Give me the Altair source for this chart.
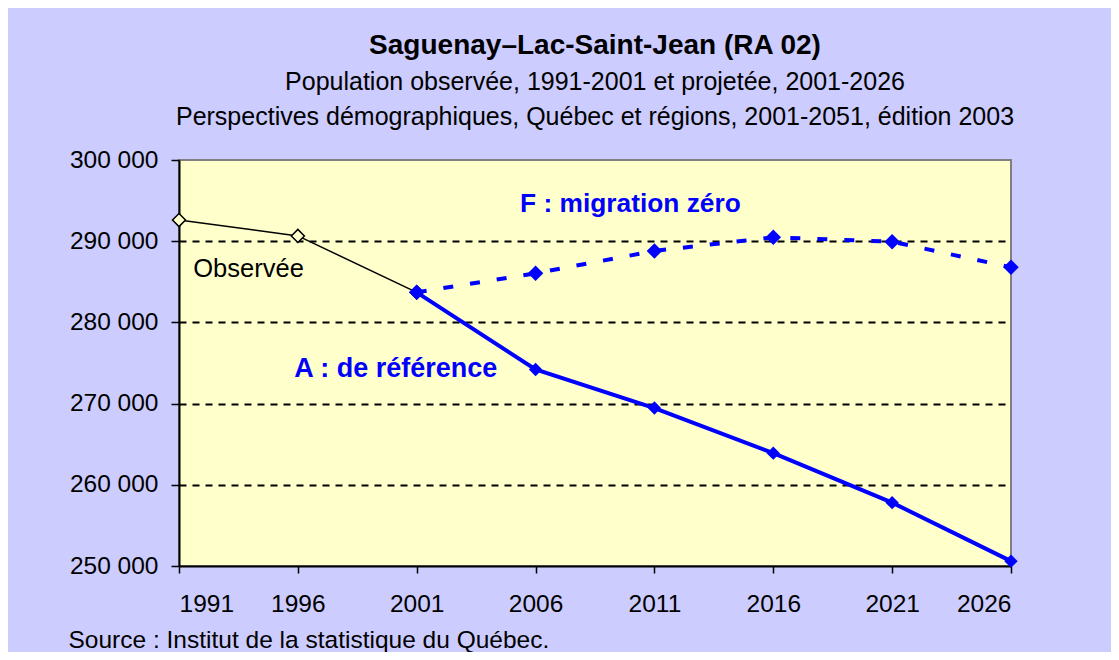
import altair as alt
import pandas as pd

# ---- data ----
obs_years = [1991, 1996, 2001]
obs_values = [292600, 290650, 283700]

proj_years = [2001, 2006, 2011, 2016, 2021, 2026]
a_values = [283700, 274200, 269450, 263900, 257800, 250600]
f_values = [283700, 286050, 288800, 290480, 289940, 286790]

x_ticks = [1991, 1996, 2001, 2006, 2011, 2016, 2021, 2026]
y_ticks = [250000, 260000, 270000, 280000, 290000, 300000]

obs_label = ["Observée"]
obs_label_year = [1991.6]
obs_label_value = [286600]

f_label = ["F : migration zéro"]
f_label_year = [2005.35]
f_label_value = [294600]

a_label = ["A : de référence"]
a_label_year = [1995.85]
a_label_value = [274250]

title_text = "Saguenay–Lac-Saint-Jean (RA 02)"
subtitle_lines = [
    "Population observée, 1991-2001 et projetée, 2001-2026",
    "Perspectives démographiques, Québec et régions, 2001-2051, édition 2003",
]
source_text = "Source : Institut de la statistique du Québec."

FONT = "Liberation Sans"
BLUE = "#0000FF"

obs_df = pd.DataFrame({"year": obs_years, "pop": obs_values})
a_df = pd.DataFrame({"year": proj_years, "pop": a_values})
f_df = pd.DataFrame({"year": proj_years, "pop": f_values})
obs_lab_df = pd.DataFrame({"year": obs_label_year, "pop": obs_label_value, "t": obs_label})
f_lab_df = pd.DataFrame({"year": f_label_year, "pop": f_label_value, "t": f_label})
a_lab_df = pd.DataFrame({"year": a_label_year, "pop": a_label_value, "t": a_label})

x_scale = alt.Scale(domain=[1991, 2026], nice=False, zero=False)
y_scale = alt.Scale(domain=[250000, 300000], nice=False, zero=False)

x_enc = alt.X(
    "year:Q",
    scale=x_scale,
    axis=alt.Axis(
        values=x_ticks,
        format="d",
        grid=False,
        domainColor="#000000",
        domainWidth=2,
        tickColor="#000000",
        tickSize=7,
        tickWidth=1.5,
        labelFont=FONT,
        labelFontSize=24.5,
        labelColor="#000000",
        labelPadding=19,
        title=source_text,
        titleFont=FONT,
        titleFontSize=24.5,
        titleFontWeight="normal",
        titleColor="#000000",
        titleX=-111,
        titleY=74,
        titleAlign="left",
        titleBaseline="middle",
    ),
)
y_enc = alt.Y(
    "pop:Q",
    scale=y_scale,
    axis=alt.Axis(
        values=y_ticks,
        labelExpr="replace(format(datum.value, ','), ',', ' ')",
        grid=True,
        gridColor="#000000",
        gridDash=[7, 6],
        gridWidth=2,
        gridOpacity={"condition": {"test": "datum.value == 300000 || datum.value == 250000", "value": 0}, "value": 1},
        domainColor="#000000",
        domainWidth=2,
        tickColor="#000000",
        tickSize=8,
        tickWidth=1.5,
        labelFont=FONT,
        labelFontSize=24.5,
        labelColor="#000000",
        labelPadding=13,
        title=None,
    ),
)

obs_line = alt.Chart(obs_df).mark_line(color="#000000", strokeWidth=1.5).encode(x=x_enc, y=y_enc)
obs_pts = alt.Chart(obs_df).mark_point(
    shape="diamond", size=170, filled=False, stroke="#000000", strokeWidth=1.5, fill="#FFFFCC", fillOpacity=1
).encode(x="year:Q", y="pop:Q")

f_line = alt.Chart(f_df).mark_line(color=BLUE, strokeWidth=4, strokeDash=[10, 17]).encode(x="year:Q", y="pop:Q")
f_pts = alt.Chart(f_df).mark_point(shape="diamond", size=240, filled=True, color=BLUE, opacity=1).encode(
    x="year:Q", y="pop:Q"
)
a_line = alt.Chart(a_df).mark_line(color=BLUE, strokeWidth=4).encode(x="year:Q", y="pop:Q")
a_pts = alt.Chart(a_df).mark_point(shape="diamond", size=180, filled=True, color=BLUE, opacity=1).encode(
    x="year:Q", y="pop:Q"
)

obs_text = alt.Chart(obs_lab_df).mark_text(
    font=FONT, fontSize=25.5, color="#000000", align="left", baseline="middle"
).encode(x="year:Q", y="pop:Q", text="t:N")
f_text = alt.Chart(f_lab_df).mark_text(
    font=FONT, fontSize=26.3, fontWeight="bold", color=BLUE, align="left", baseline="middle"
).encode(x="year:Q", y="pop:Q", text="t:N")
a_text = alt.Chart(a_lab_df).mark_text(
    font=FONT, fontSize=27, fontWeight="bold", color=BLUE, align="left", baseline="middle"
).encode(x="year:Q", y="pop:Q", text="t:N")

chart = (
    alt.layer(obs_line, f_line, a_line, obs_pts, f_pts, a_pts, obs_text, f_text, a_text)
    .properties(
        width=832,
        height=406,
        autosize=alt.AutoSizeParams(type="none"),
        padding={"left": 171, "top": 152, "right": 100, "bottom": 86},
        background="#CCCCFF",
        title=alt.TitleParams(
            text=title_text,
            subtitle=subtitle_lines,
            anchor="middle",
            font=FONT,
            fontSize=28,
            fontWeight="bold",
            color="#000000",
            subtitleFont=FONT,
            subtitleFontSize=25,
            subtitleColor="#000000",
            subtitleLineHeight=35,
            subtitlePadding=10,
            offset=17,
        ),
    )
    .configure_view(fill="#FFFFCC", stroke="#808080", strokeWidth=2)
)

chart.save("out.html", embed_options={"renderer": "svg", "actions": False})
